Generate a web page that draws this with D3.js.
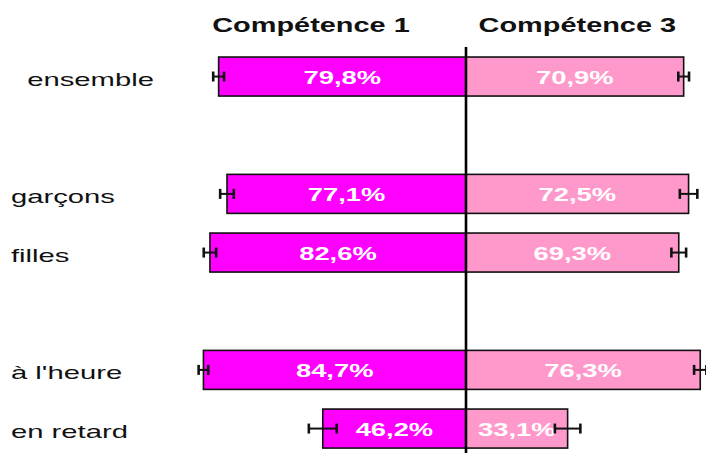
<!DOCTYPE html>
<html>
<head>
<meta charset="utf-8">
<script src="https://cdn.jsdelivr.net/npm/d3@7"></script>
<style>
  body { margin: 0; background: #fff; }
  svg text { font-family: "Liberation Sans", Arial, sans-serif; white-space: pre; }
</style>
</head>
<body>
<div id="chart"></div>
<script>
const width = 706;
const height = 453;

// données
const categories = ["  ensemble", "garçons", "filles", "à l'heure", "en retard"];
const blankBefore = ["garçons", "à l'heure"]; // une ligne vide avant ces groupes
const series = ["Compétence 1", "Compétence 3"];
const comp1 = [79.8, 77.1, 82.6, 84.7, 46.2];
const comp3 = [70.9, 72.5, 69.3, 76.3, 33.1];
const err1 = [1.75, 2.2, 2.0, 1.55, 4.5];
const err3 = [1.75, 2.85, 2.4, 2.0, 4.15];
const labels1 = ["79,8%", "77,1%", "82,6%", "84,7%", "46,2%"];
const labels3 = ["70,9%", "72,5%", "69,3%", "76,3%", "33,1%"];

const colors = ["#ff00ff", "#ff99cc"];
const mid = 466;

const svg = d3.select("#chart")
  .append("svg")
  .attr("width", width)
  .attr("height", height);

// lignes (avec les emplacements vides)
const slots = [];
categories.forEach((c, i) => {
  if (blankBefore.includes(c)) slots.push("__vide" + i);
  slots.push(c);
});

const y = d3.scaleBand()
  .domain(slots)
  .range([47.2, 457.9])
  .paddingInner(0.335)
  .paddingOuter(0.1675);

const xLeft = d3.scaleLinear().domain([0, 100]).range([mid, mid - 310]);
const xRight = d3.scaleLinear().domain([0, 100]).range([mid, mid + 307]);

const rows = categories.map((c, i) => ({
  cat: c, v1: comp1[i], v3: comp3[i], e1: err1[i], e3: err3[i], l1: labels1[i], l3: labels3[i]
}));

// texte étiré horizontalement
function stretchText(sel, x, yy, sx) {
  return sel.attr("transform", (d, i) => `translate(${x(d, i)},${yy(d, i)}) scale(${sx},1)`);
}

// barres gauche
svg.selectAll(".bar1")
  .data(rows)
  .enter().append("rect")
  .attr("x", d => xLeft(d.v1))
  .attr("y", d => y(d.cat))
  .attr("width", d => mid - xLeft(d.v1))
  .attr("height", y.bandwidth())
  .attr("fill", colors[0])
  .attr("stroke", "#111")
  .attr("stroke-width", 1.6);

// barres droite
svg.selectAll(".bar3")
  .data(rows)
  .enter().append("rect")
  .attr("x", mid)
  .attr("y", d => y(d.cat))
  .attr("width", d => xRight(d.v3) - mid)
  .attr("height", y.bandwidth())
  .attr("fill", colors[1])
  .attr("stroke", "#111")
  .attr("stroke-width", 1.6);

// valeurs
stretchText(svg.selectAll(".val1").data(rows).enter().append("text")
  .attr("text-anchor", "middle")
  .attr("font-weight", "bold")
  .attr("font-size", 18.6)
  .attr("fill", "#fff")
  .text(d => d.l1),
  d => (xLeft(d.v1) + mid) / 2, d => y(d.cat) + y.bandwidth() / 2 + 7, 1.47);

stretchText(svg.selectAll(".val3").data(rows).enter().append("text")
  .attr("text-anchor", "middle")
  .attr("font-weight", "bold")
  .attr("font-size", 18.6)
  .attr("fill", "#fff")
  .text(d => d.l3),
  d => (xRight(d.v3) + mid) / 2, d => y(d.cat) + y.bandwidth() / 2 + 7, 1.47);

// barres d'erreur
function errorBars(key, ekey, scale) {
  const g = svg.selectAll(".err-" + key).data(rows).enter().append("g")
    .attr("stroke", "#111");
  g.append("line")
    .attr("x1", d => scale(d[key] - d[ekey]))
    .attr("x2", d => scale(d[key] + d[ekey]))
    .attr("y1", d => y(d.cat) + y.bandwidth() / 2)
    .attr("y2", d => y(d.cat) + y.bandwidth() / 2)
    .attr("stroke-width", 2);
  [-1, 1].forEach(s => {
    g.append("line")
      .attr("x1", d => scale(d[key] + s * d[ekey]))
      .attr("x2", d => scale(d[key] + s * d[ekey]))
      .attr("y1", d => y(d.cat) + y.bandwidth() / 2 - 5)
      .attr("y2", d => y(d.cat) + y.bandwidth() / 2 + 5)
      .attr("stroke-width", 2.6);
  });
}
errorBars("v1", "e1", xLeft);
errorBars("v3", "e3", xRight);

// axe central
svg.append("line")
  .attr("x1", mid).attr("x2", mid)
  .attr("y1", 47).attr("y2", height)
  .attr("stroke", "#000")
  .attr("stroke-width", 2.6);

// étiquettes des catégories
stretchText(svg.selectAll(".cat").data(rows).enter().append("text")
  .attr("font-size", 17.5)
  .attr("fill", "#111")
  .text(d => d.cat),
  () => 11, d => y(d.cat) + y.bandwidth() / 2 + 9, 1.67);

// titres
stretchText(svg.append("text").datum(series[0])
  .attr("text-anchor", "middle")
  .attr("font-weight", "bold")
  .attr("font-size", 20.5)
  .attr("fill", "#111")
  .text(d => d),
  () => xLeft(50), () => 32.3, 1.41);

stretchText(svg.append("text").datum(series[1])
  .attr("text-anchor", "start")
  .attr("font-weight", "bold")
  .attr("font-size", 20.5)
  .attr("fill", "#111")
  .text(d => d),
  () => mid + 12.6, () => 32.3, 1.41);
</script>
</body>
</html>
